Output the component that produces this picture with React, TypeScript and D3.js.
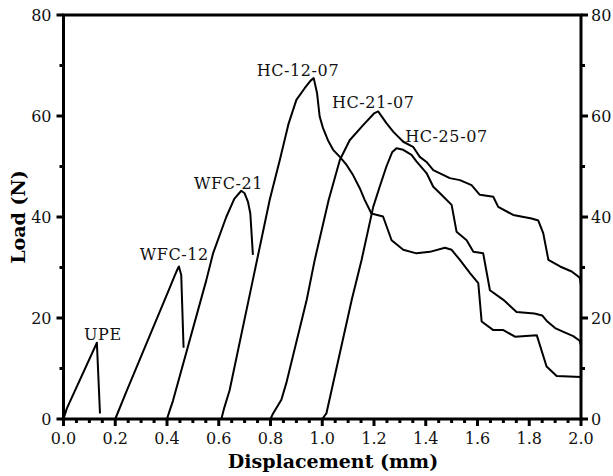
import React from 'react';
import * as d3 from 'd3';

const W = 613;
const H = 476;

const xTickValues = [0, 0.2, 0.4, 0.6, 0.8, 1.0, 1.2, 1.4, 1.6, 1.8, 2.0];
const yTickValues = [0, 20, 40, 60, 80];
const yMinorValues = [10, 30, 50, 70];

const upe: [number, number][] = [[0, 0], [0.013, 2.1], [0.129, 15.1], [0.141, 1.1]];
const wfc12: [number, number][] = [[0.2, 0], [0.243, 5.4], [0.41, 25.9], [0.429, 28.3], [0.44, 29.6], [0.446, 30.2], [0.455, 28.5], [0.464, 14.1]];
const wfc21: [number, number][] = [[0.4, 0], [0.41, 1.6], [0.423, 3.6], [0.552, 27.5], [0.578, 32.8], [0.629, 40], [0.66, 43.6], [0.687, 45.2], [0.7, 44.7], [0.713, 43], [0.722, 40.7], [0.732, 32.5]];
const hc1207: [number, number][] = [[0.61, 0], [0.62, 2], [0.642, 5.7], [0.732, 27.6], [0.797, 43.4], [0.836, 51.3], [0.87, 58.5], [0.9, 63.2], [0.932, 65.5], [0.955, 67], [0.967, 67.5], [0.98, 64.5], [0.99, 59.9], [1.003, 57.6], [1.022, 55.2], [1.042, 53.3], [1.068, 51.9], [1.094, 50.3], [1.119, 48.3], [1.145, 45.7], [1.164, 43.4], [1.19, 40.7], [1.235, 40.1], [1.268, 35.4], [1.313, 33.5], [1.364, 32.8], [1.416, 33.1], [1.474, 33.9], [1.5, 33.5], [1.532, 31.5], [1.571, 28.9], [1.603, 26.9], [1.616, 19.3], [1.661, 17.6], [1.7, 17.6], [1.745, 16.3], [1.829, 16.6], [1.867, 10.4], [1.906, 8.5], [2.0, 8.3]];
const hc2107: [number, number][] = [[0.8, 0], [0.81, 1.1], [0.842, 3.8], [0.861, 7.1], [0.94, 23.6], [0.971, 31.5], [1.025, 43.4], [1.068, 51.3], [1.106, 55.2], [1.158, 58.2], [1.2, 60.5], [1.216, 60.9], [1.248, 58.6], [1.274, 56.9], [1.313, 54.9], [1.351, 53.9], [1.377, 51.9], [1.403, 50.9], [1.429, 49.3], [1.493, 47.7], [1.532, 47.3], [1.577, 46.3], [1.609, 44.4], [1.661, 44], [1.68, 42], [1.738, 40.4], [1.809, 39.7], [1.835, 39.3], [1.854, 36.8], [1.874, 31.5], [1.919, 30.2], [1.964, 29.2], [1.995, 28], [2.0, 26.5]];
const hc2507: [number, number][] = [[1.0, 0], [1.016, 1.1], [1.114, 23.6], [1.152, 31.5], [1.197, 42], [1.222, 46], [1.248, 50], [1.27, 52.8], [1.287, 53.6], [1.313, 53.3], [1.345, 52.3], [1.364, 51], [1.403, 48.7], [1.429, 46], [1.455, 44.7], [1.5, 42.4], [1.519, 37.1], [1.558, 35.4], [1.584, 33.1], [1.622, 32.8], [1.648, 25.5], [1.7, 23.6], [1.751, 21.2], [1.82, 20.9], [1.85, 20.5], [1.87, 19.3], [1.9, 18], [1.93, 17.3], [1.97, 16.4], [1.995, 15.5], [2.0, 14.5]];

const seriesList = [upe, wfc12, wfc21, hc1207, hc2107, hc2507];

const labelNames = ['UPE', 'WFC-12', 'WFC-21', 'HC-12-07', 'HC-21-07', 'HC-25-07'];
const labelX = [0.152, 0.428, 0.638, 0.906, 1.197, 1.48];
const labelY = [15.6, 31.5, 45.5, 67.9, 61.5, 54.9];

const FONT = '"DejaVu Serif", serif';

export default function App() {
  const x = d3.scaleLinear().domain([0, 2]).range([63.5, 581]);
  const y = d3.scaleLinear().domain([0, 80]).range([419, 15]);
  const line = d3.line<[number, number]>().x(d => x(d[0])).y(d => y(d[1])).curve(d3.curveLinear);
  const xMinor = d3.range(0, 41).filter(i => i % 4 !== 0).map(i => i * 0.05);
  const x0 = x(0), x1 = x(2), y0 = y(0), y1 = y(80);

  return (
    <svg width={W} height={H} style={{ position: 'absolute', left: 0, top: 0, background: '#fff' }}>
      <rect x={0} y={0} width={W} height={H} fill="#fff" />
      {seriesList.map((s, i) => (
        <path key={i} d={line(s) || ''} fill="none" stroke="#000" strokeWidth={2} strokeLinejoin="round" />
      ))}
      {labelNames.map((n, i) => (
        <text key={n} x={x(labelX[i])} y={y(labelY[i])} textAnchor="middle" fontFamily={FONT} fontSize={16} letterSpacing={0.6} fill="#111">{n}</text>
      ))}
      {/* frame */}
      <line x1={x0} x2={x0} y1={y1} y2={y0 + 1.5} stroke="#000" strokeWidth={3} />
      <line x1={x1} x2={x1} y1={y1} y2={y0 + 1.5} stroke="#000" strokeWidth={3} />
      <line x1={x0 - 1.5} x2={x1 + 1.5} y1={y0} y2={y0} stroke="#000" strokeWidth={3} />
      <line x1={x0 - 1.5} x2={x1 + 1.5} y1={y1} y2={y1} stroke="#000" strokeWidth={3} />
      {/* x ticks */}
      {xTickValues.map(v => (
        <g key={'xt' + v}>
          <line x1={x(v)} x2={x(v)} y1={y0} y2={y0 + 7} stroke="#000" strokeWidth={3} />
          <text x={x(v)} y={y0 + 25} textAnchor="middle" fontFamily={FONT} fontSize={16} fill="#111">{v.toFixed(1)}</text>
        </g>
      ))}
      {xMinor.map(v => (
        <line key={'xm' + v} x1={x(v)} x2={x(v)} y1={y0} y2={y0 + 4} stroke="#000" strokeWidth={3} />
      ))}
      {/* y ticks */}
      {yTickValues.map(v => (
        <g key={'yt' + v}>
          <line x1={x0 - 7} x2={x0} y1={y(v)} y2={y(v)} stroke="#000" strokeWidth={3} />
          <line x1={x1} x2={x1 + 7} y1={y(v)} y2={y(v)} stroke="#000" strokeWidth={3} />
          <text x={x0 - 12} y={y(v) + 5.5} textAnchor="end" fontFamily={FONT} fontSize={16} fill="#111">{v}</text>
          <text x={x1 + 10} y={y(v) + 5.5} textAnchor="start" fontFamily={FONT} fontSize={16} fill="#111">{v}</text>
        </g>
      ))}
      {yMinorValues.map(v => (
        <g key={'ym' + v}>
          <line x1={x0 - 4} x2={x0} y1={y(v)} y2={y(v)} stroke="#000" strokeWidth={3} />
          <line x1={x1} x2={x1 + 4} y1={y(v)} y2={y(v)} stroke="#000" strokeWidth={3} />
        </g>
      ))}
      <text x={333} y={467.5} textAnchor="middle" fontFamily={FONT} fontWeight="bold" fontSize={19} fill="#000">Displacement (mm)</text>
      <text transform={`translate(25,${(y0 + y1) / 2}) rotate(-90)`} textAnchor="middle" fontFamily={FONT} fontWeight="bold" fontSize={19} fill="#000">Load (N)</text>
    </svg>
  );
}
